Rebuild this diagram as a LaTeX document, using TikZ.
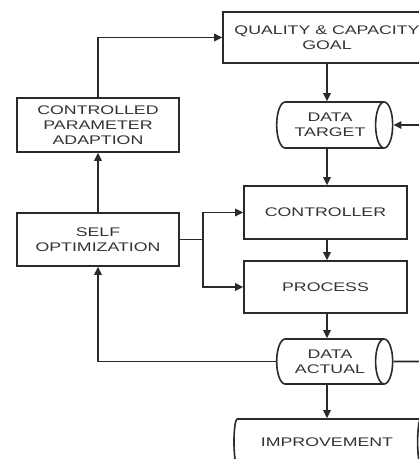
\documentclass[tikz,border=0pt]{standalone}
\usepackage{fontspec}
\setmainfont{Liberation Sans}[FakeStretch=1.42]
\usetikzlibrary{shapes.geometric,arrows.meta}
\definecolor{linec}{HTML}{2A2A2A}
\definecolor{textc}{HTML}{333333}
\begin{document}
\begin{tikzpicture}[x=1pt,y=-1pt,
  every node/.style={font=\fontsize{12.5}{15}\selectfont, text=textc, align=center, inner sep=0pt},
  box/.style={draw=linec, line width=1.6pt, rectangle},
  drum/.style={draw=linec, line width=1.6pt, cylinder, shape aspect=0.72},
  conn/.style={draw=linec, line width=1.6pt},
  arr/.style={conn, -{Triangle[width=7.5pt,length=8pt]}}]
\useasboundingbox (0,0) rectangle (419,459);
\clip (0,0) rectangle (419,459);
\fill[white] (0,0) rectangle (419,459);
% nodes
\node[box, minimum width=208pt, minimum height=51pt] (qcg) at (327,37.5) {QUALITY \& CAPACITY\\GOAL};
\node[drum, minimum height=116pt, minimum width=46pt] (target) at (330,125) {DATA\\TARGET};
\node[box, minimum width=162pt, minimum height=54pt] (cpa) at (98,125) {CONTROLLED\\PARAMETER\\ADAPTION};
\node[box, minimum width=162pt, minimum height=53pt] (so) at (98,239.5) {SELF\\OPTIMIZATION};
\node[box, minimum width=163pt, minimum height=53pt] (ctrl) at (325.5,212.5) {CONTROLLER};
\node[box, minimum width=163pt, minimum height=52pt] (proc) at (325.5,287) {PROCESS};
\node[drum, minimum height=116pt, minimum width=45pt] (actual) at (330,361.5) {DATA\\ACTUAL};
\node[drum, minimum height=190pt, minimum width=46pt] (impr) at (327,442) {IMPROVEMENT};
% free ends
\coordinate (tin) at (430,125);
\coordinate (aout) at (430,361.5);
\coordinate (split) at (203,239.5);
% connectors
\draw[arr] (qcg.south -| 327,0) -- (327,0 |- target.north);
\draw[arr] (tin) -- (target.east);
\draw[arr] (327,0 |- target.south) -- (327,0 |- ctrl.north);
\draw[arr] (327,0 |- ctrl.south) -- (327,0 |- proc.north);
\draw[arr] (327,0 |- proc.south) -- (327,0 |- actual.north);
\draw[arr] (327,0 |- actual.south) -- (327,0 |- impr.north);
\draw[conn] (actual.east) -- (aout);
\draw[arr] (actual.west) -| (so.south);
\draw[arr] (so.north) -- (cpa.south);
\draw[arr] (cpa.north) |- (qcg.west);
\draw[conn] (so.east) -- (split);
\draw[arr] (split) |- (ctrl.west);
\draw[arr] (split) |- (proc.west);
\end{tikzpicture}
\end{document}
